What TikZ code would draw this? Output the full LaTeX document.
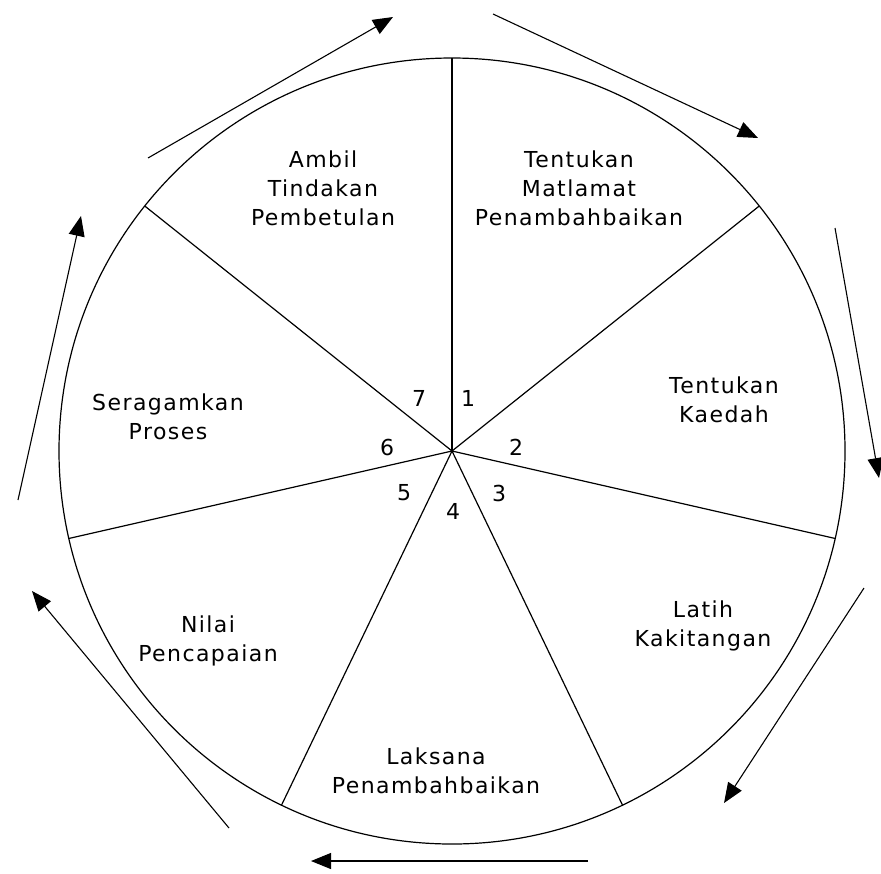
\documentclass[tikz,border=0pt]{standalone}
\usepackage{fontspec}
\setmainfont{DejaVu Sans}[LetterSpace=6.5]
\usetikzlibrary{arrows.meta}
\begin{document}
\begin{tikzpicture}[x=0.5pt,y=-0.5pt,
  ln/.style={line width=0.6pt},
  cyc/.style={line width=0.55pt,-{Triangle[length=10pt,width=8pt]}},
  lbl/.style={align=center,font=\fontsize{11}{14.4}\selectfont,inner sep=0pt},
  num/.style={font=\fontsize{11}{12}\selectfont,inner sep=0pt}]
\useasboundingbox (0,0) rectangle (881,873);
\coordinate (c) at (452,451);
\draw[ln] (c) circle[radius=196.5pt];
\foreach \i/\a in {1/90,2/38.57,3/-12.86,4/-64.29,5/-115.71,6/-167.14,7/141.43}
  \coordinate (s\i) at ([shift={(\a:196.5pt)}]c);
\foreach \i in {1,...,7} \draw[ln] (c) -- (s\i);
% numbers
\node[num] (n1) at (468,398) {1};
\node[num] (n2) at (516,447) {2};
\node[num] (n3) at (499,493) {3};
\node[num] (n4) at (453,511) {4};
\node[num] (n5) at (404,493) {5};
\node[num] (n6) at (387,447) {6};
\node[num] (n7) at (419,398) {7};
% labels
\node[lbl] (t7) at (323,188) {Ambil\\Tindakan\\Pembetulan};
\node[lbl] (t1) at (579,188) {Tentukan\\Matlamat\\Penambahbaikan};
\node[lbl] (t2) at (724,400) {Tentukan\\Kaedah};
\node[lbl] (t3) at (703,626) {Latih\\Kakitangan};
\node[lbl] (t4) at (436,771) {Laksana\\Penambahbaikan};
\node[lbl] (t5) at (208,641) {Nilai\\Pencapaian};
\node[lbl] (t6) at (168,417) {Seragamkan\\Proses};
% cycle arrows
\coordinate (a1s) at (148,158); \coordinate (a1e) at (393,17);
\coordinate (a2s) at (493,14);  \coordinate (a2e) at (758,138);
\coordinate (a3s) at (835,228); \coordinate (a3e) at (879,478);
\coordinate (a4s) at (864,588); \coordinate (a4e) at (724,803);
\coordinate (a5s) at (588,861); \coordinate (a5e) at (311,861);
\coordinate (a6s) at (229,828); \coordinate (a6e) at (32,591);
\coordinate (a7s) at (18,500);  \coordinate (a7e) at (81,216);
\foreach \k in {1,...,7} \draw[cyc] (a\k s) -- (a\k e);
\end{tikzpicture}
\end{document}
